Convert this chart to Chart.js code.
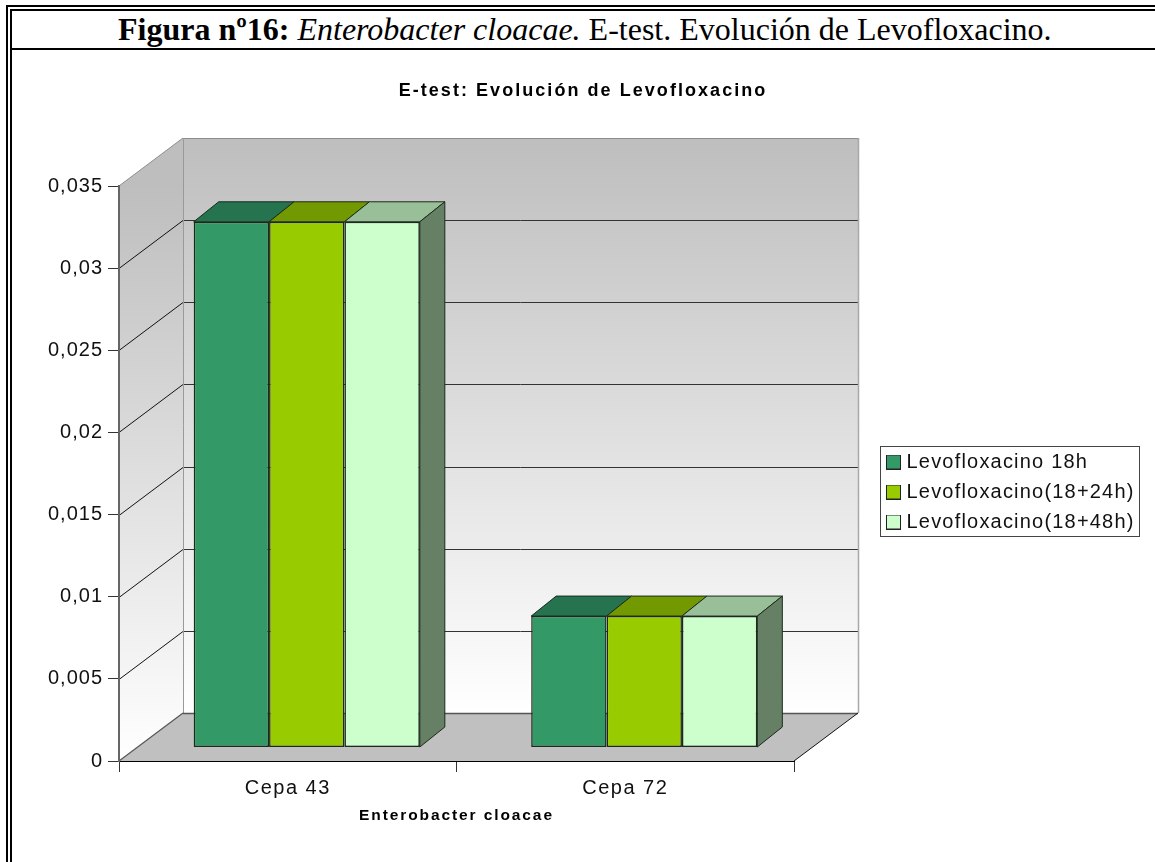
<!DOCTYPE html>
<html><head><meta charset="utf-8">
<script src="https://cdn.jsdelivr.net/npm/chart.js@4"></script>
<style>
html,body{margin:0;padding:0;background:#fff;width:1155px;height:862px;overflow:hidden}
.l{position:absolute;background:#000}
#hd{position:absolute;left:118px;top:9px;height:39px;font:32px/41px "Liberation Serif",serif;color:#000;white-space:nowrap}
canvas{position:absolute;left:0;top:0}
</style></head><body>
<div class="l" style="left:6px;top:5px;width:2px;height:857px"></div>
<div class="l" style="left:10px;top:9px;width:2px;height:853px"></div>
<div class="l" style="left:6px;top:5px;width:1149px;height:2px"></div>
<div class="l" style="left:10px;top:9px;width:1145px;height:2px"></div>
<div class="l" style="left:12px;top:48px;width:1143px;height:2px"></div>
<div id="hd"><b>Figura nº16:</b> <i>Enterobacter cloacae.</i> E-test. Evolución de Levofloxacino.</div>
<canvas id="c" width="1155" height="862"></canvas>
<script>
const categories = ['Cepa 43', 'Cepa 72'];
const seriesNames = ['Levofloxacino 18h', 'Levofloxacino(18+24h)', 'Levofloxacino(18+48h)'];
const levo18h = [0.032, 0.008];
const levo24h = [0.032, 0.008];
const levo48h = [0.032, 0.008];
const yTickLabels = ['0', '0,005', '0,01', '0,015', '0,02', '0,025', '0,03', '0,035'];
const chartTitle = 'E-test: Evolución de Levofloxacino';
const xAxisTitle = 'Enterobacter cloacae';

const frontColors = ['#339966', '#99CC00', '#CCFFCC'];
const topColors = ['#267350', '#739900', '#99BF99'];
const sideColors = ['#1a4d33', '#4d6600', '#668066'];
const edge = '#1c2a1c';
const WALL = {dx: 64, dy: -48};
const BAR = {dx: 19, dy: -13.5, ddx: 25, ddy: -20};

function swatch(color) {
  const c = document.createElement('canvas');
  c.width = 15; c.height = 15;
  const g = c.getContext('2d');
  g.fillStyle = color; g.fillRect(0, 0, 15, 15);
  g.strokeStyle = '#222'; g.lineWidth = 1; g.strokeRect(.5, .5, 14, 14);
  return c;
}
function poly(ctx, pts, fill, stroke, lw) {
  ctx.beginPath();
  pts.forEach((p, i) => i ? ctx.lineTo(p[0], p[1]) : ctx.moveTo(p[0], p[1]));
  ctx.closePath();
  if (fill) { ctx.fillStyle = fill; ctx.fill(); }
  if (stroke) { ctx.strokeStyle = stroke; ctx.lineWidth = lw || 1; ctx.stroke(); }
}
function seg(ctx, x1, y1, x2, y2, color, lw) {
  ctx.beginPath(); ctx.moveTo(x1, y1); ctx.lineTo(x2, y2);
  ctx.strokeStyle = color; ctx.lineWidth = lw || 1; ctx.stroke();
}
function spaced(obj, method, px) {
  if (!obj || obj['_sp' + method]) return;
  const orig = obj[method];
  obj['_sp' + method] = true;
  obj[method] = function () {
    const ctx = this.ctx, old = ctx.letterSpacing;
    ctx.letterSpacing = px;
    orig.apply(this, arguments);
    ctx.letterSpacing = old;
  };
}

const scene = {
  id: 'scene',
  afterLayout(chart) {
    const lg = chart.legend;
    lg.left = 880.5; lg.right = 1155; lg.width = 274.5;
    lg.top = 442; lg.bottom = 562; lg.height = 120;
    chart.titleBlock.left += 185.5; chart.titleBlock.right += 185.5;
    spaced(chart.titleBlock, 'draw', '2.05px');
    spaced(lg, 'draw', '1.2px');
    spaced(chart.scales.x, 'drawTitle', '1.9px');
    spaced(chart.scales.x, 'drawLabels', '1.5px');
    spaced(chart.scales.y, 'drawLabels', '1px');
  },
  beforeDraw(chart) {
    const {ctx, chartArea: a, scales: {y}} = chart;
    const top = y.getPixelForValue(0.035), bot = y.getPixelForValue(0);
    const d = WALL;
    ctx.save();
    let g = ctx.createLinearGradient(0, top + d.dy, 0, bot + d.dy);
    g.addColorStop(0, '#bebebe'); g.addColorStop(1, '#ffffff');
    poly(ctx, [[a.left + d.dx, top + d.dy], [a.right + d.dx, top + d.dy], [a.right + d.dx, bot + d.dy], [a.left + d.dx, bot + d.dy]], g);
    g = ctx.createLinearGradient(0, top, 0, bot);
    g.addColorStop(0, '#bebebe'); g.addColorStop(1, '#ffffff');
    poly(ctx, [[a.left, top], [a.left + d.dx, top + d.dy], [a.left + d.dx, bot + d.dy], [a.left, bot]], g);
    poly(ctx, [[a.left, bot], [a.left + d.dx, bot + d.dy], [a.right + d.dx, bot + d.dy], [a.right, bot]], '#c0c0c0');
    y.ticks.forEach(t => {
      if (t.value <= 0 || t.value >= 0.035) return;
      const p = Math.round(y.getPixelForValue(t.value)) + .5;
      seg(ctx, a.left, p, a.left + d.dx, p + d.dy, '#111', 1);
      seg(ctx, a.left + d.dx, p + d.dy, a.right + d.dx, p + d.dy, '#333', 1);
    });
    seg(ctx, a.left, top, a.left + d.dx, top + d.dy, '#8c8c8c', 1);
    seg(ctx, a.left + d.dx, top + d.dy + .5, a.right + d.dx + 1, top + d.dy + .5, '#8c8c8c', 1);
    seg(ctx, a.left + d.dx + .5, top + d.dy, a.left + d.dx + .5, bot + d.dy, '#9a9a9a', 1);
    seg(ctx, a.right + d.dx + .5, top + d.dy, a.right + d.dx + .5, bot + d.dy, '#a8a8a8', 1.5);
    seg(ctx, a.left + d.dx, bot + d.dy + .5, a.right + d.dx, bot + d.dy + .5, '#555', 1.5);
    seg(ctx, a.left, bot, a.left + d.dx, bot + d.dy, '#555', 1.2);
    seg(ctx, a.right, bot, a.right + d.dx, bot + d.dy, '#111', 1);
    ctx.restore();
  },
  beforeDatasetsDraw(chart) {
    const ctx = chart.ctx;
    ctx.save();
    ctx.translate(BAR.dx, BAR.dy);
    chart.getSortedVisibleDatasetMetas().forEach((meta, i, all) => {
      meta.data.forEach(el => {
        const p = el.getProps(['x', 'y', 'base', 'width'], true);
        const l = p.x - p.width / 2, r = p.x + p.width / 2;
        poly(ctx, [[l, p.y], [l + BAR.ddx, p.y + BAR.ddy], [r + BAR.ddx, p.y + BAR.ddy], [r, p.y]], topColors[i], edge, 1);
        if (i === all.length - 1)
          poly(ctx, [[r, p.y], [r + BAR.ddx, p.y + BAR.ddy], [r + BAR.ddx, p.base + BAR.ddy], [r, p.base]], sideColors[i], edge, 1);
      });
    });
  },
  afterDatasetsDraw(chart) { chart.ctx.restore(); },
  afterDraw(chart) {
    const ctx = chart.ctx;
    ctx.save();
    ctx.strokeStyle = '#444'; ctx.lineWidth = 1;
    ctx.strokeRect(880.5, 446.5, 259, 90);
    ctx.restore();
  }
};

const series = [levo18h, levo24h, levo48h];
new Chart(document.getElementById('c'), {
  type: 'bar',
  plugins: [scene],
  data: {
    labels: categories,
    datasets: seriesNames.map((n, i) => ({
      label: n, data: series[i],
      backgroundColor: frontColors[i], borderColor: edge, borderWidth: 1.5, borderSkipped: false,
      categoryPercentage: 0.67, barPercentage: 1, clip: false
    }))
  },
  options: {
    responsive: false, animation: false,
    layout: {padding: {left: 0, right: 360, top: 0, bottom: 0}},
    plugins: {
      tooltip: {enabled: false},
      title: {
        display: true, text: chartTitle, color: '#000',
        font: {family: '"Liberation Sans"', size: 18, weight: 'bold'},
        padding: {top: 80.2, bottom: 84.2}
      },
      legend: {
        display: true, position: 'right', align: 'start', maxWidth: 1,
        labels: {
          usePointStyle: true, pointStyleWidth: 6, padding: 10, color: '#111',
          font: {family: '"Liberation Sans"', size: 20},
          generateLabels(chart) {
            return Chart.defaults.plugins.legend.labels.generateLabels(chart)
              .map((it, i) => Object.assign(it, {pointStyle: swatch(frontColors[i])}));
          }
        }
      }
    },
    scales: {
      x: {
        offset: true,
        afterFit(s) { s.height = 101; },
        grid: {display: true, drawOnChartArea: false, offset: true, tickLength: 11, tickColor: '#333'},
        border: {color: '#000', width: 1},
        ticks: {color: '#111', padding: 4, font: {family: '"Liberation Sans"', size: 20}, maxRotation: 0},
        title: {display: true, text: xAxisTitle, color: '#000', padding: {top: 5, bottom: 36.5},
          font: {family: '"Liberation Sans"', size: 15.5, weight: 'bold'}}
      },
      y: {
        min: 0, max: 0.035,
        afterFit(s) { s.width = 119; },
        grid: {display: true, drawOnChartArea: false, tickLength: 11, tickColor: '#333'},
        border: {color: '#666', width: 2},
        ticks: {
          stepSize: 0.005, color: '#111', padding: 5, autoSkip: false,
          font: {family: '"Liberation Sans"', size: 20},
          callback(v, i) { return yTickLabels[i]; }
        }
      }
    }
  }
});
</script>
</body></html>
